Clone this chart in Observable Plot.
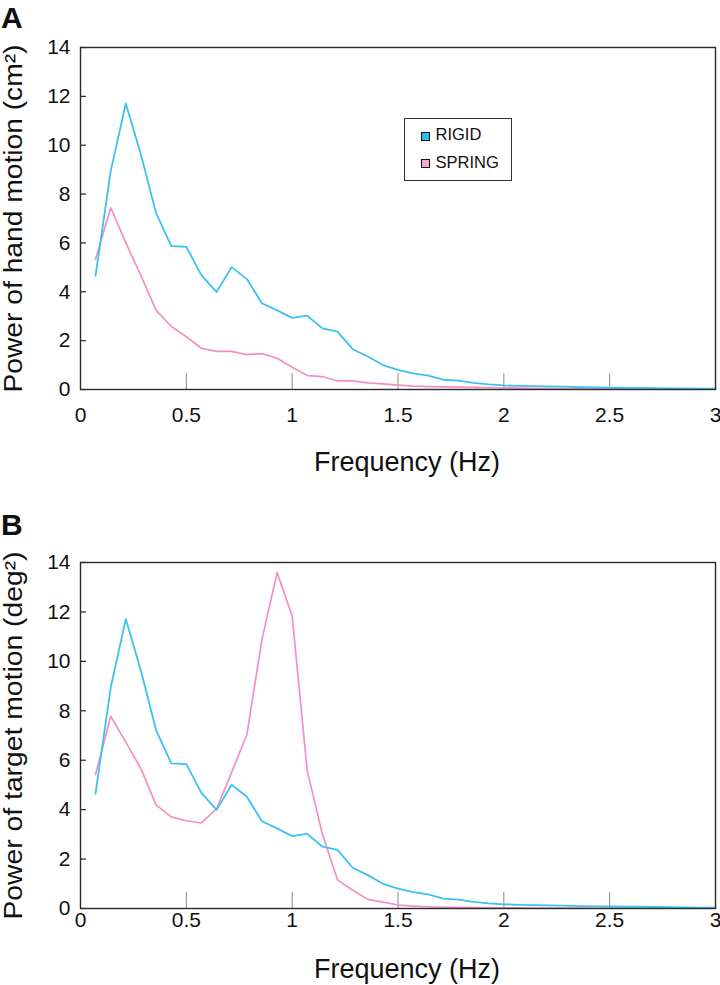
<!DOCTYPE html>
<html>
<head>
<meta charset="utf-8">
<script src="https://cdn.jsdelivr.net/npm/d3@7"></script>
<script src="https://cdn.jsdelivr.net/npm/@observablehq/plot@0.6"></script>
<style>
  html, body { margin: 0; padding: 0; background: #fff; }
  #wrap { position: relative; width: 720px; height: 985px; font-family: "Liberation Sans", Arial, sans-serif; color: #111; overflow: hidden; }
  .panel { position: absolute; left: 0; }
  .plabel { position: absolute; left: 1px; font-weight: bold; font-size: 30px; line-height: 30px; }
  .legend { position: absolute; left: 404px; top: 118px; width: 108px; height: 63px; border: 1.3px solid #333; background: #fff; box-sizing: border-box; }
  .legend .tx { position: absolute; left: 30.5px; font-size: 16.5px; line-height: 16.5px; white-space: nowrap; }
  .legend .sw { position: absolute; left: 15.7px; width: 9px; height: 9px; border: 1px solid #111; box-sizing: border-box; }
</style>
</head>
<body>
<div id="wrap"></div>
<script>
// ---- data ----
const freq = [0.071,0.143,0.214,0.286,0.357,0.429,0.5,0.571,0.643,0.714,0.786,0.857,0.929,1.0,
  1.071,1.143,1.214,1.286,1.357,1.429,1.5,1.571,1.643,1.714,1.786,1.857,1.929,2.0,
  2.071,2.143,2.214,2.286,2.357,2.429,2.5,2.571,2.643,2.714,2.786,2.857,2.929,3.0];

const rigid = [4.65,8.95,11.71,9.6,7.22,5.87,5.84,4.68,3.99,5.01,4.52,3.53,3.24,2.93,
  3.02,2.5,2.37,1.65,1.35,1.0,0.8,0.66,0.57,0.4,0.36,0.27,0.21,0.17,
  0.15,0.14,0.13,0.12,0.1,0.09,0.08,0.07,0.07,0.06,0.05,0.04,0.03,0.03];

const springHand = [5.33,7.44,6.01,4.65,3.25,2.58,2.16,1.69,1.56,1.56,1.43,1.47,1.28,0.91,
  0.57,0.53,0.35,0.35,0.27,0.23,0.18,0.14,0.12,0.11,0.1,0.09,0.08,0.07,
  0.06,0.05,0.05,0.04,0.04,0.03,0.03,0.03,0.02,0.02,0.02,0.02,0.01,0.01];

const springTarget = [5.42,7.78,6.73,5.65,4.19,3.71,3.55,3.46,4.03,5.51,7.03,10.88,13.59,11.83,
  5.58,3.0,1.16,0.74,0.37,0.26,0.14,0.1,0.07,0.05,0.05,0.04,0.03,0.03,
  0.03,0.02,0.02,0.02,0.02,0.01,0.01,0.01,0.01,0.01,0.01,0.01,0.01,0.01];

const seriesNames = ["RIGID", "SPRING"];
const seriesColors = ["#3bc2f0", "#f48fc6"];
const swatchColors = ["#1fc4f4", "#f7a6d5"];

const xTicks = [0, 0.5, 1, 1.5, 2, 2.5, 3];
const xTickLabels = ["0", "0.5", "1", "1.5", "2", "2.5", "3"];
const yTicks = [0, 2, 4, 6, 8, 10, 12, 14];

const xTitle = "Frequency (Hz)";
const yTitles = ["Power of hand motion (cm²)", "Power of target motion (deg²)"];
const panelLabels = ["A", "B"];

// ---- build ----
const toRows = vals => freq.map((f, i) => ({f, v: vals[i]}));

function panel({spring, yTitle, yTitleLen, height, marginTop, marginBottom, tickPad, xTitleDy}) {
  const svg = Plot.plot({
    width: 720, height, marginLeft: 80, marginRight: 5, marginTop, marginBottom,
    x: {domain: [0, 3]},
    y: {domain: [0, 14]},
    style: {fontFamily: "'Liberation Sans', Arial, sans-serif", fontSize: "21px", color: "#111", background: "white", overflow: "visible"},
    marks: [
      Plot.ruleX(xTicks, {x: d => d, y1: 0, y2: 0.65, stroke: "#8a8a8a", strokeWidth: 1}),
      Plot.ruleY(yTicks, {y: d => d, x1: 0, x2: 0.028, stroke: "#222", strokeWidth: 1.2}),
      Plot.axisX({ticks: xTicks, tickSize: 0, tickPadding: tickPad, tickFormat: d => xTickLabels[xTicks.indexOf(d)], label: null}),
      Plot.axisY({ticks: yTicks, tickSize: 0, tickPadding: 10, label: null}),
      Plot.line(toRows(spring), {x: "f", y: "v", stroke: seriesColors[1], strokeWidth: 1.7}),
      Plot.line(toRows(rigid), {x: "f", y: "v", stroke: seriesColors[0], strokeWidth: 1.8}),
      Plot.frame({stroke: "#2a2a2a", strokeWidth: 1.4}),
      Plot.text([xTitle], {frameAnchor: "bottom", dx: 9, dy: xTitleDy, lineAnchor: "middle", textAnchor: "middle", fontSize: 27}),
      Plot.text([yTitle], {frameAnchor: "left", dx: -66.5, rotate: -90, lineAnchor: "middle", textAnchor: "middle", fontSize: 26})
    ]
  });
  svg.querySelectorAll("text").forEach(t => {
    if (t.textContent === yTitle) {
      t.setAttribute("textLength", yTitleLen);
      t.setAttribute("lengthAdjust", "spacingAndGlyphs");
    }
  });
  return svg;
}

const wrap = document.getElementById("wrap");

const a = panel({spring: springHand, yTitle: yTitles[0], yTitleLen: 348, height: 490, marginTop: 47, marginBottom: 101, tickPad: 18, xTitleDy: 73});
const divA = document.createElement("div"); divA.className = "panel"; divA.style.top = "0px"; divA.appendChild(a); wrap.appendChild(divA);

const b = panel({spring: springTarget, yTitle: yTitles[1], yTitleLen: 368, height: 495, marginTop: 72, marginBottom: 77, tickPad: 4, xTitleDy: 61});
const divB = document.createElement("div"); divB.className = "panel"; divB.style.top = "490px"; divB.appendChild(b); wrap.appendChild(divB);

// panel letters
[[panelLabels[0], 3], [panelLabels[1], 510]].forEach(([t, top]) => {
  const d = document.createElement("div"); d.className = "plabel"; d.style.top = top + "px"; d.textContent = t; wrap.appendChild(d);
});

// legend (panel A)
const lg = document.createElement("div"); lg.className = "legend";
seriesNames.forEach((n, i) => {
  const sw = document.createElement("span"); sw.className = "sw"; sw.style.background = swatchColors[i];
  sw.style.top = (i === 0 ? 12.7 : 40) + "px";
  const tx = document.createElement("span"); tx.className = "tx"; tx.textContent = n;
  tx.style.top = (i === 0 ? 7.4 : 35) + "px";
  lg.appendChild(sw); lg.appendChild(tx);
});
wrap.appendChild(lg);
</script>
</body>
</html>
